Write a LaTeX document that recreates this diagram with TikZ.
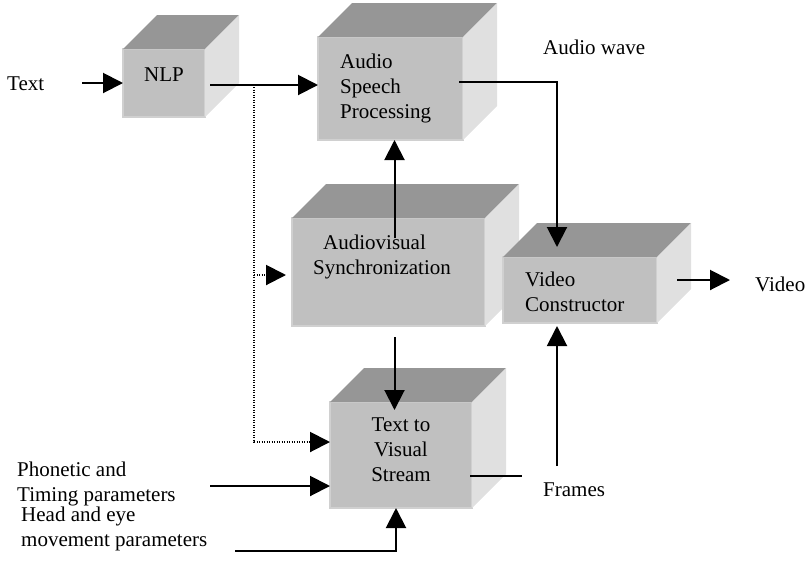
\documentclass[tikz,border=0pt]{standalone}
\usepackage{fontspec}
\setmainfont{Liberation Serif}
\usetikzlibrary{arrows.meta,calc}

\definecolor{frontgray}{RGB}{192,192,192}
\definecolor{edgegray}{RGB}{208,208,208}
\definecolor{topgray}{RGB}{150,150,150}
\definecolor{sidegray}{RGB}{224,224,224}

% box with a shaded top and right side; front face is the named node
\def\cube(#1)(#2,#3)(#4:#5){
	\node[front, minimum width=#4pt, minimum height=#5pt] (#1) at (#2,#3) {};
	\fill[topgray] (#1.north west) -- ++(\dep,-\dep) -- ++(#4,0) -- (#1.north east) -- cycle;
	\fill[sidegray] (#1.north east) -- ++(\dep,-\dep) -- ++(0,#5) -- (#1.south east) -- cycle;
}
\def\dep{34}

\tikzset{
	front/.style={fill=frontgray, draw=edgegray, line width=1.2pt, anchor=north west, inner sep=0pt, outer sep=0pt},
	lbl/.style={inner sep=0pt, anchor=north west, align=left},
	arr/.style={line width=2pt, -{Triangle[length=20pt, width=20pt]}},
	plain/.style={line width=2pt},
	dots/.style={line width=1.5pt, dash pattern=on 1.2pt off 1.3pt}
}

\begin{document}
\begin{tikzpicture}[x=1pt, y=-1pt, font=\fontsize{21}{25}\selectfont]
			%%%%% START %%%%%
			\useasboundingbox (0,0) rectangle (808,574);
			
			\cube(nlp)(123,49)(82:68)
			\cube(asp)(318,37)(145:103)
			\cube(avs)(292,218)(193:108)
			\cube(vc)(503,257)(154:66)
			\cube(tvs)(330,402)(142:106)
			
			\node[lbl] (txt) at (7,77) {Text};
			\node[lbl, anchor=north, align=center] (nlptxt) at (164,68) {NLP};
			\node[lbl] (asptxt) at (340,54) {Audio\\Speech\\Processing};
			\node[lbl] (wave) at (543,40) {Audio wave};
			\node[lbl] (avstxt) at (313,235) {\hspace*{10pt}Audiovisual\\Synchronization};
			\node[lbl] (vctxt) at (525,272) {Video\\Constructor};
			\node[lbl] (video) at (755,277) {Video};
			\node[lbl, anchor=north, align=center] (tvstxt) at (401,418) {Text to\\Visual\\Stream};
			\node[lbl] (phon) at (17,462) {Phonetic and\\Timing parameters};
			\node[lbl] (head) at (21,507) {Head and eye\\movement parameters};
			\node[lbl] (frames) at (543,483) {Frames};
			
			% free ends of the connectors
			\coordinate (textin) at ($(nlp.west)+(-41,0)$);
			\coordinate (nlpout) at ($(nlp.east)+(5,2)$);
			\coordinate (tap) at ($(nlpout)+(44,2)$);
			\coordinate (avsup) at ($(avs.north)+(6,20)$);
			\coordinate (avsdown) at ($(avs.south)+(6,11)$);
			\coordinate (aspout) at ($(asp.east)+(-4,-7)$);
			\coordinate (vcout) at ($(vc.east)+(20,-10)$);
			\coordinate (tvsout) at ($(tvs.east)+(-2,21)$);
			\coordinate (framesup) at ($(vc.south)+(-23,143)$);
			\coordinate (phonin) at ($(tvs.west)+(-120,31)$);
			\coordinate (headin) at ($(tvs.south)+(-166,43)$);
			
			\draw[arr] (textin) -- (nlp.west);
			\draw[arr] (nlpout) -- (nlpout -| asp.west);
			\draw[dots] (tap) |- ($(tvs.west)+(-20,-13)$);
			\draw[dots] ($(tap |- avs.west)+(0,3)$) -- ($(avs.west)+(-25,3)$);
			\draw[arr] ($(avs.west)+(-26,3)$) -- ($(avs.west)+(-6,3)$);
			\draw[arr] ($(tvs.west)+(-21,-13)$) -- ($(tvs.west)+(0,-13)$);
			\draw[arr] (avsup) -- (avsup |- asp.south);
			\draw[arr] (aspout) -| ($(vc.north)+(-23,-10)$);
			\draw[arr] (vcout) -- ++(53,0);
			\draw[arr] (avsdown) -- ($(avsdown |- tvs.north)+(0,8)$);
			\draw[plain] (tvsout) -- ++(52,0);
			\draw[arr] (framesup) -- ($(vc.south)+(-23,3)$);
			\draw[arr] (phonin) -- ($(tvs.west)+(0,31)$);
			\draw[arr] (headin) -| ($(tvs.south)+(-5,0)$);
			
			%%%%% END %%%%%
\end{tikzpicture}
\end{document}
